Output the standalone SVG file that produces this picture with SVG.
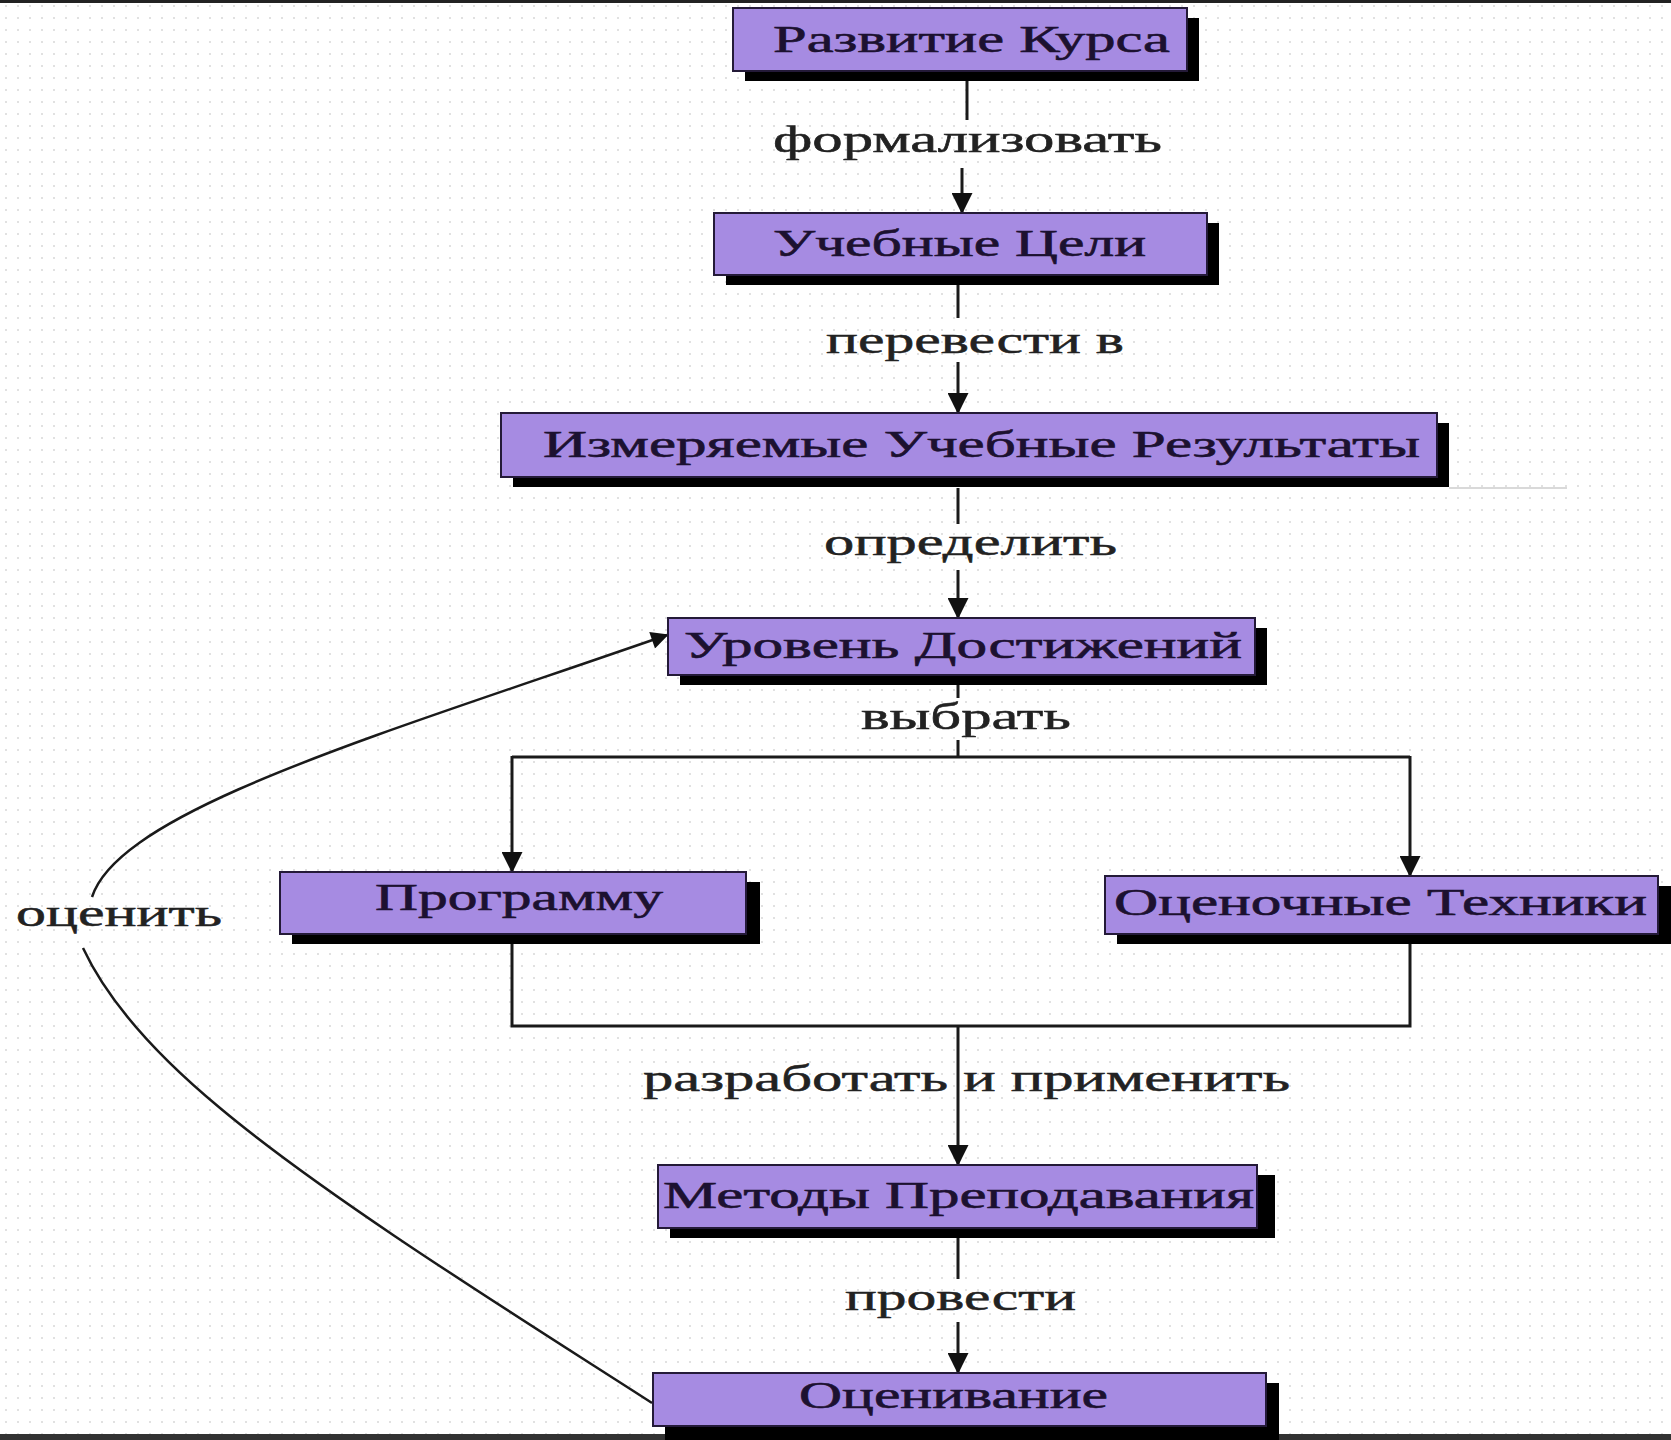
<svg xmlns="http://www.w3.org/2000/svg" width="1671" height="1440" viewBox="0 0 1671 1440">
<style>
.shadow{fill:#000}
.box{fill:#a68be2;stroke:#241a38;stroke-width:2}
.bt{font-family:"Liberation Serif","Times New Roman",serif;font-size:37px;fill:#1c1130;stroke:#1c1130;stroke-width:0.6}
.lbl{font-family:"Liberation Serif","Times New Roman",serif;font-size:38px;fill:#222;stroke:#222;stroke-width:0.5}
.ln{stroke:#1a1a1a;stroke-width:3;fill:none}
.cv{stroke:#1a1a1a;stroke-width:2.5;fill:none}
</style>
<defs>
<pattern id="grid" width="12" height="12" patternUnits="userSpaceOnUse">
<rect x="5" y="5.5" width="2" height="1" fill="#d6d6d6"/>
<rect x="5.5" y="5" width="1" height="2" fill="#d6d6d6"/>
</pattern>
<marker id="arr" viewBox="0 0 10 10" refX="9" refY="5" markerWidth="7" markerHeight="7" orient="auto" markerUnits="strokeWidth">
<path d="M0,0 L10,5 L0,10 z" fill="#111"/>
</marker>
<marker id="arr2" viewBox="0 0 10 10" refX="9" refY="5" markerWidth="8" markerHeight="7" orient="auto" markerUnits="strokeWidth">
<path d="M0,0 L10,5 L0,10 z" fill="#111"/>
</marker>
</defs>
<rect x="0" y="0" width="1671" height="1440" fill="#fff"/>
<rect x="0" y="0" width="1671" height="1440" fill="url(#grid)"/>
<rect x="0" y="0" width="1671" height="3" fill="#222"/>
<rect x="0" y="1434" width="1671" height="6" fill="#333"/>
<line x1="1449" y1="488" x2="1567" y2="488" stroke="#ccc" stroke-width="1.5"/>

<g id="connectors">
<line class="ln" x1="967" y1="72" x2="967" y2="120"/>
<line class="ln" x1="962" y1="168" x2="962" y2="212" marker-end="url(#arr)"/>
<line class="ln" x1="958" y1="283" x2="958" y2="318"/>
<line class="ln" x1="958" y1="362" x2="958" y2="412" marker-end="url(#arr)"/>
<line class="ln" x1="958" y1="488" x2="958" y2="524"/>
<line class="ln" x1="958" y1="570" x2="958" y2="617" marker-end="url(#arr)"/>
<line class="ln" x1="958" y1="684" x2="958" y2="698"/>
<line class="ln" x1="958" y1="740" x2="958" y2="757"/>
<polyline class="ln" points="512,757 1410,757"/>
<line class="ln" x1="512" y1="756" x2="512" y2="871" marker-end="url(#arr)"/>
<line class="ln" x1="1410" y1="756" x2="1410" y2="875" marker-end="url(#arr)"/>
<polyline class="ln" points="512,944 512,1026 1410,1026 1410,944"/>
<line class="ln" x1="958" y1="1026" x2="958" y2="1164" marker-end="url(#arr)"/>
<line class="ln" x1="958" y1="1238" x2="958" y2="1279"/>
<line class="ln" x1="958" y1="1322" x2="958" y2="1372" marker-end="url(#arr)"/>
<path class="cv" d="M652,1403 C520,1318 330,1200 220,1108 C150,1050 105,995 83,948"/>
<path class="cv" d="M92,897 C120,810 380,735 667,635" marker-end="url(#arr2)"/>
</g>

<g id="n1"><rect class="shadow" x="745" y="18" width="454" height="63"/><rect class="box" x="733" y="8" width="454" height="63"/><text class="bt" x="773" y="52" textLength="397" lengthAdjust="spacingAndGlyphs">Развитие Курса</text></g>
<g id="n2"><rect class="shadow" x="726" y="223" width="493" height="62"/><rect class="box" x="714" y="213" width="493" height="62"/><text class="bt" x="773" y="256" textLength="373" lengthAdjust="spacingAndGlyphs">Учебные Цели</text></g>
<g id="n3"><rect class="shadow" x="513" y="423" width="936" height="64"/><rect class="box" x="501" y="413" width="936" height="64"/><text class="bt" x="543" y="457" textLength="877" lengthAdjust="spacingAndGlyphs">Измеряемые Учебные Результаты</text></g>
<g id="n4"><rect class="shadow" x="680" y="628" width="587" height="57"/><rect class="box" x="668" y="618" width="587" height="57"/><text class="bt" x="684" y="658" textLength="558" lengthAdjust="spacingAndGlyphs">Уровень Достижений</text></g>
<g id="n5"><rect class="shadow" x="292" y="882" width="468" height="62"/><rect class="box" x="280" y="872" width="466" height="62"/><text class="bt" x="375" y="910" textLength="288" lengthAdjust="spacingAndGlyphs">Программу</text></g>
<g id="n6"><rect class="shadow" x="1117" y="886" width="554" height="58"/><rect class="box" x="1105" y="876" width="553" height="58"/><text class="bt" x="1114" y="915" textLength="533" lengthAdjust="spacingAndGlyphs">Оценочные Техники</text></g>
<g id="n7"><rect class="shadow" x="670" y="1175" width="605" height="63"/><rect class="box" x="658" y="1165" width="599" height="63"/><text class="bt" x="663" y="1208" textLength="591" lengthAdjust="spacingAndGlyphs">Методы Преподавания</text></g>
<g id="n8"><rect class="shadow" x="665" y="1383" width="614" height="57"/><rect class="box" x="653" y="1373" width="613" height="53"/><text class="bt" x="799" y="1408" textLength="309" lengthAdjust="spacingAndGlyphs">Оценивание</text></g>

<g id="labels">
<text class="lbl" x="773" y="152" textLength="389" lengthAdjust="spacingAndGlyphs">формализовать</text>
<text class="lbl" x="826" y="353" textLength="298" lengthAdjust="spacingAndGlyphs">перевести в</text>
<text class="lbl" x="824" y="555" textLength="293" lengthAdjust="spacingAndGlyphs">определить</text>
<text class="lbl" x="861" y="729" textLength="210" lengthAdjust="spacingAndGlyphs">выбрать</text>
<text class="lbl" x="643" y="1091" textLength="647" lengthAdjust="spacingAndGlyphs">разработать и применить</text>
<text class="lbl" x="845" y="1310" textLength="231" lengthAdjust="spacingAndGlyphs">провести</text>
<text class="lbl" x="16" y="926" textLength="206" lengthAdjust="spacingAndGlyphs">оценить</text>
</g>
</svg>
